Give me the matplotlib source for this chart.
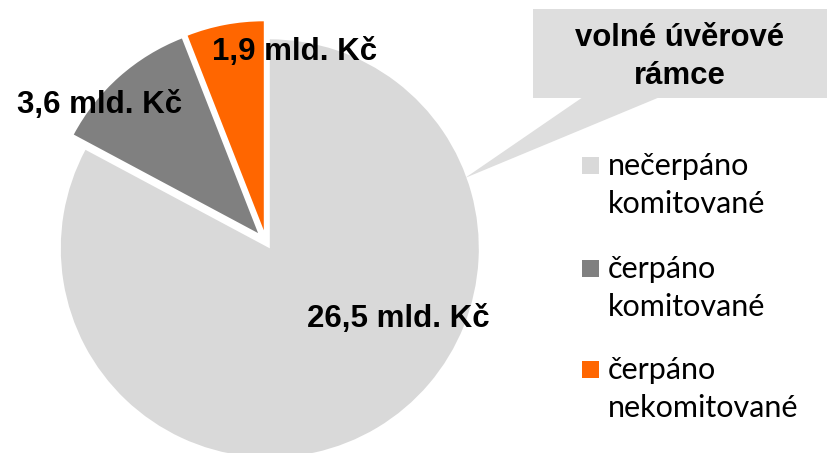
import matplotlib
matplotlib.use('Agg')
import matplotlib.pyplot as plt
from matplotlib.patches import Rectangle, Polygon

# data
categories = ['nečerpáno\nkomitované', 'čerpáno\nkomitované', 'čerpáno\nnekomitované']
values = [26.5, 3.6, 1.9]
colors = ['#d9d9d9', '#808080', '#ff6600']
callout_text = 'volné úvěrové\nrámce'

W, H = 828, 453

def Y(y):
    # pixel row (from top) -> data y
    return H - y

fig = plt.figure(figsize=(W / 100, H / 100), dpi=100)
ax = fig.add_axes([0, 0, 1, 1])

# explode is in data units here (pixels)
ax.pie(values, colors=colors, startangle=90, counterclock=False,
       explode=[7.4, 11.9, 11.9], radius=209, center=(266, Y(242)),
       wedgeprops=dict(linewidth=0))

ax.set_xlim(0, W)
ax.set_ylim(0, H)
ax.set_aspect('equal')
ax.axis('off')

# value labels
label_pos = [(398, 327), (100, 113), (295, 60)]
for v, (x, y) in zip(values, label_pos):
    txt = ('%.1f' % v).replace('.', ',') + ' mld. Kč'
    ax.text(x, Y(y), txt, ha='center', va='baseline', fontsize=22.5,
            fontweight='bold', family='Liberation Sans', color='black')

# callout box
box_col = '#dedede'
ax.add_patch(Polygon([(583, Y(97)), (660, Y(97)), (465, Y(178))],
                     closed=True, facecolor=box_col, edgecolor='none', zorder=3))
ax.add_patch(Rectangle((533, Y(98)), W - 533, 89, facecolor=box_col,
                       edgecolor='none', zorder=3))
ax.text(680, Y(57), callout_text, ha='center', va='center', fontsize=22.4,
        fontweight='bold', family='Liberation Sans', linespacing=1.35, zorder=4)

# legend (square sits on first line, text anchored at last line baseline)
leg_y = [174, 277, 378]
for lab, c, y in zip(categories, colors, leg_y):
    ax.add_patch(Rectangle((582, Y(y)), 17, 17, facecolor=c, edgecolor='none'))
    ax.text(608, Y(y + 39), lab, ha='left', va='baseline', fontsize=22,
            family='Lato', linespacing=1.42)

fig.savefig('out.png', dpi=100)
